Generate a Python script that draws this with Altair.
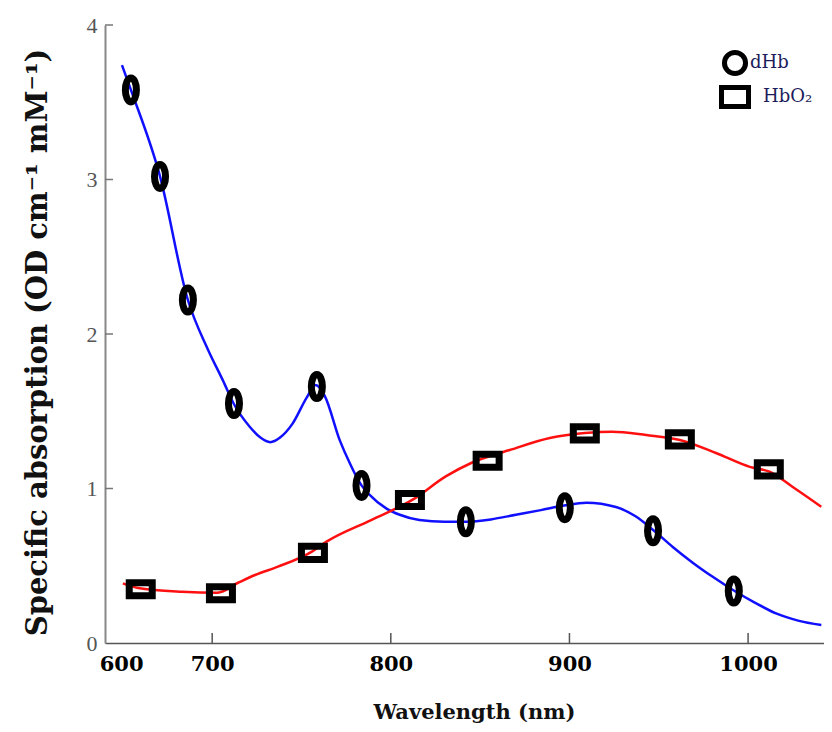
import altair as alt
import pandas as pd

# ---- data ----
dhb_curve_wl = [649.5, 654.5, 670.8, 686.4, 697.6, 706, 712, 721, 727, 732.5, 738, 745, 753, 758, 763,
                771.5, 777, 783.6, 788, 797.6, 805, 816, 830, 842, 856, 870, 884, 897, 909.5, 926,
                937, 947, 958, 969, 980, 992, 1004, 1016, 1028, 1041]
dhb_curve_val = [3.74, 3.58, 3.02, 2.22, 1.90, 1.70, 1.55, 1.40, 1.33, 1.30, 1.33, 1.42, 1.59, 1.67, 1.60,
                 1.31, 1.165, 1.02, 0.96, 0.87, 0.83, 0.796, 0.785, 0.785, 0.80, 0.83, 0.86, 0.89, 0.908, 0.88,
                 0.82, 0.73, 0.62, 0.52, 0.43, 0.34, 0.26, 0.19, 0.145, 0.116]

hbo2_curve_wl = [650, 658.5, 683, 703, 714.5, 724, 736.8, 755.6, 764, 789, 812, 831, 845, 866.6, 889,
                 908.6, 924, 943, 961.8, 982, 1001, 1012, 1025, 1041]
hbo2_curve_val = [0.386, 0.356, 0.332, 0.326, 0.39, 0.44, 0.494, 0.59, 0.656, 0.796, 0.926, 1.08, 1.165,
                  1.249, 1.327, 1.359, 1.368, 1.346, 1.314, 1.23, 1.14, 1.109, 1.01, 0.882]

dhb_pts_wl = [654.5, 670.8, 686.4, 712.2, 758.6, 783.6, 842, 897.4, 946.8, 992]
dhb_pts_val = [3.58, 3.02, 2.22, 1.55, 1.66, 1.02, 0.785, 0.876, 0.727, 0.337]

hbo2_pts_wl = [660, 704.9, 756.4, 810.7, 854.2, 908.6, 961.8, 1011.6]
hbo2_pts_val = [0.348, 0.322, 0.583, 0.926, 1.18, 1.357, 1.318, 1.124]

series_names = ["dHb", "HbO\u2082"]
x_tick_values = [649, 700, 800, 900, 1000]
x_tick_marks = [700, 800, 900, 1000]
y_tick_values = [0, 1, 2, 3, 4]
y_tick_marks = [1, 2, 3, 4]

curves = pd.DataFrame({
    "wl": dhb_curve_wl + hbo2_curve_wl,
    "val": dhb_curve_val + hbo2_curve_val,
    "series": [series_names[0]] * len(dhb_curve_wl) + [series_names[1]] * len(hbo2_curve_wl),
})
dhb_pts = pd.DataFrame({"wl": dhb_pts_wl, "val": dhb_pts_val})
hbo2_pts = pd.DataFrame({"wl": hbo2_pts_wl, "val": hbo2_pts_val})
legend_df = pd.DataFrame({"key": series_names})

ellipse_path = "M0,-1 A0.46,1 0 1,1 0,1 A0.46,1 0 1,1 0,-1 Z"
rect_path = "M-1,-0.57 L1,-0.57 L1,0.57 L-1,0.57 Z"
ring_path = "M0,-0.78 A0.78,0.78 0 1,1 0,0.78 A0.78,0.78 0 1,1 0,-0.78 Z"
legend_rect_path = "M-1,-0.7 L1,-0.7 L1,0.7 L-1,0.7 Z"

xscale = alt.Scale(domain=[640, 1042.5], nice=False, zero=False)
yscale = alt.Scale(domain=[0, 4], nice=False, zero=False)

xaxis = alt.Axis(
    values=x_tick_values,
    labelExpr="datum.value < 650 ? '600' : format(datum.value, 'd')",
    ticks=False, grid=False, domainColor="#555555", domainWidth=1.5,
    labelFont="DejaVu Serif", labelFontSize=21, labelFontWeight="bold", labelColor="black",
    labelPadding=10, labelFlush=False, labelOverlap=False,
    title="Wavelength (nm)", titleFont="DejaVu Serif", titleFontSize=21, titleFontWeight="bold",
    titleColor="#111111", titleX=369, titleY=75, titleBaseline="alphabetic", titleAlign="center",
)
yaxis = alt.Axis(
    values=y_tick_values, ticks=False, grid=False, domainColor="#888888", domainWidth=2,
    labelFont="Liberation Serif", labelFontSize=22, labelColor="#555555", labelPadding=8,
    labelFlush=False, labelOverlap=False,
    title="Specific absorption (OD cm\u207b\u00b9 mM\u207b\u00b9)", titleFont="DejaVu Serif",
    titleFontSize=29, titleFontWeight="bold", titleColor="#111111", titleAngle=270,
    titleX=-59, titleY=317, titleAlign="center", titleBaseline="alphabetic",
)

X = alt.X("wl:Q", scale=xscale, axis=xaxis)
Y = alt.Y("val:Q", scale=yscale, axis=yaxis)

lines = alt.Chart(curves).mark_line(strokeWidth=2.5, interpolate="monotone", clip=True).encode(
    x=X, y=Y,
    color=alt.Color("series:N", scale=alt.Scale(domain=series_names, range=["#1010ff", "#ff1010"]), legend=None),
)

dhb_marks = alt.Chart(dhb_pts).mark_point(
    shape=ellipse_path, size=576, filled=False, stroke="black", strokeWidth=7, opacity=1
).encode(x=X, y=Y)

hbo2_marks = alt.Chart(hbo2_pts).mark_point(
    shape=rect_path, size=529, filled=False, stroke="black", strokeWidth=7, opacity=1
).encode(x=X, y=Y)

xticks = alt.Chart(pd.DataFrame({"wl": x_tick_marks})).mark_rule(color="#555555", strokeWidth=1.5).encode(
    x=X, y=alt.value(618), y2=alt.value(608)
)
yticks = alt.Chart(pd.DataFrame({"val": y_tick_marks})).mark_rule(color="#777777", strokeWidth=1.5).encode(
    y=Y, x=alt.value(0), x2=alt.value(8)
)

main = alt.layer(lines, dhb_marks, hbo2_marks, xticks, yticks)

# legend drawn with its own point scales (entries stacked at the top right)
LY = alt.Y("key:N", scale=alt.Scale(domain=series_names, range=[38, 72], padding=0), axis=None)
legend_symbols = alt.Chart(legend_df).mark_point(
    filled=False, stroke="black", strokeWidth=5, opacity=1, size=729
).encode(
    x=alt.value(630), y=LY,
    shape=alt.Shape("key:N", scale=alt.Scale(domain=series_names, range=[ring_path, legend_rect_path]),
                    legend=None),
)
legend_labels = alt.Chart(legend_df).mark_text(
    align="left", baseline="middle", font="DejaVu Serif", fontSize=18, color="#1c1c5c"
).encode(
    x=alt.X("key:N", scale=alt.Scale(domain=series_names, range=[645, 658], padding=0), axis=None),
    y=LY, text="key:N",
)
legend = alt.layer(legend_symbols, legend_labels).resolve_scale(x="independent")

chart = alt.layer(main, legend).resolve_scale(x="independent", y="independent", shape="independent").properties(
    width=719, height=618,
    background="white",
    autosize=alt.AutoSizeParams(type="none"),
    padding={"left": 97, "top": 17, "right": 0, "bottom": 80},
).configure_view(stroke=None)

chart.save("out.html", embed_options={"renderer": "svg", "actions": False})
